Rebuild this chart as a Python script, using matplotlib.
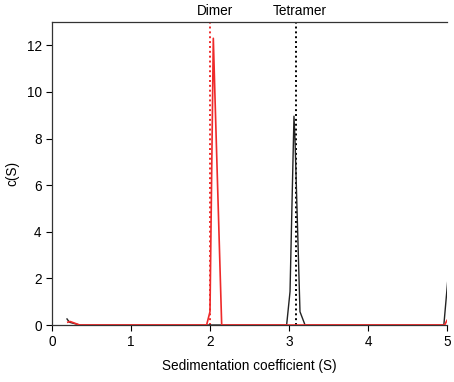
import matplotlib
matplotlib.use("Agg")
import matplotlib.pyplot as plt

plt.rcParams['font.family'] = ['Liberation Sans', 'DejaVu Sans']

# Data
black_s = [0.19, 0.22, 0.35, 2.97, 3.013, 3.063, 3.076, 3.139, 3.203, 4.96, 5.03]
black_c = [0.26, 0.12, 0.0, 0.0, 1.43, 8.96, 7.96, 0.57, 0.0, 0.0, 2.7]

red_s = [0.20, 0.23, 0.35, 1.957, 2.00, 2.042, 2.063, 2.148, 4.97, 5.00]
red_c = [0.12, 0.15, 0.0, 0.0, 0.57, 12.3, 9.8, 0.0, 0.0, 0.2]

dimer_s = 2.00
tetramer_s = 3.085
marker_labels = ["Dimer", "Tetramer"]
label_s = [2.06, 3.14]

xticks = [0, 1, 2, 3, 4, 5]
yticks = [0, 2, 4, 6, 8, 10, 12]

fig = plt.figure(figsize=(4.54, 3.82), dpi=100)
ax = fig.add_axes([0.1145, 0.1492, 0.8701, 0.7932])

ax.plot(black_s, black_c, color='#222222', lw=1.0, zorder=2)
ax.plot(red_s, red_c, color='#ee2a2a', lw=1.2, zorder=3)

ax.axvline(dimer_s, color='#ee2a2a', ls=(0, (1, 1.5)), lw=1.4, zorder=1)
ax.axvline(tetramer_s, color='black', ls=(0, (1, 1.5)), lw=1.4, zorder=1)

for s, lab in zip(label_s, marker_labels):
    ax.text(s, 1.012, lab, transform=ax.get_xaxis_transform(), ha='center',
            va='bottom', fontsize=9.8)

ax.set_xlim(0, 5)
ax.set_ylim(0, 13)
ax.set_xticks(xticks)
ax.set_yticks(yticks)
ax.tick_params(direction='out', length=4, width=0.8, labelsize=9.8)
ax.spines['right'].set_visible(False)
for sp in ['left', 'bottom', 'top']:
    ax.spines[sp].set_linewidth(0.9)
    ax.spines[sp].set_color('#333333')

ax.set_xlabel("Sedimentation coefficient (S)", fontsize=9.8, labelpad=7)
ax.set_ylabel("c(S)", fontsize=9.8, labelpad=5)

fig.savefig("out.png", dpi=100)
